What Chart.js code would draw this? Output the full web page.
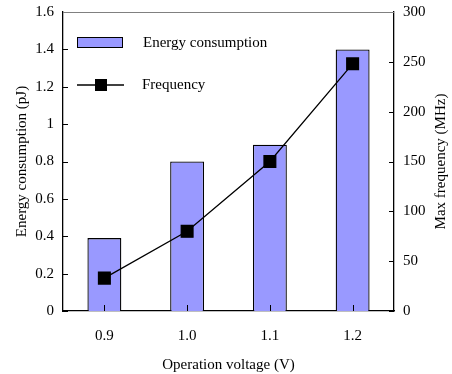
<!DOCTYPE html>
<html>
<head>
    <title>Energy vs Frequency</title>
    <style>
        body { margin: 0; background: #fff; }
        #wrap { width: 452px; height: 374px; }
    </style>
</head>
<body>
    <div id="wrap"><canvas id="chart" width="452" height="374"></canvas></div>

    <script src="https://cdn.jsdelivr.net/npm/chart.js"></script>
    <script>
        const voltages = ['0.9', '1.0', '1.1', '1.2'];
        const energy = [0.39, 0.80, 0.89, 1.40];
        const frequency = [33, 80, 150, 248];
        const energyTicks = [0, 0.2, 0.4, 0.6, 0.8, 1, 1.2, 1.4, 1.6];
        const freqTicks = [0, 50, 100, 150, 200, 250, 300];
        const rightTitle = 'Max frequency (MHz)';

        const FONT = '"Liberation Serif", "Times New Roman", serif';
        const SIZE = 15;
        const BAR_COLOR = '#9999ff';

        // inward tick marks, top frame line, right title and the legend inside the plot
        const decorations = {
            id: 'decorations',
            afterDatasetsDraw(chart) {
                const ctx = chart.ctx;
                const a = chart.chartArea;
                const y = chart.scales.y, y1 = chart.scales.y1, x = chart.scales.x;
                ctx.save();
                ctx.strokeStyle = '#000';
                ctx.lineWidth = 1;
                ctx.beginPath();
                energyTicks.forEach(v => {
                    const py = Math.round(y.getPixelForValue(v)) + 0.5;
                    ctx.moveTo(a.left, py); ctx.lineTo(a.left + 5, py);
                });
                freqTicks.forEach(v => {
                    const py = Math.round(y1.getPixelForValue(v)) + 0.5;
                    ctx.moveTo(a.right, py); ctx.lineTo(a.right - 5, py);
                });
                voltages.forEach((v, i) => {
                    const px = Math.round(x.getPixelForValue(i)) + 0.5;
                    ctx.moveTo(px, a.bottom); ctx.lineTo(px, a.bottom - 6);
                });
                ctx.stroke();

                ctx.strokeStyle = '#808080';
                ctx.beginPath();
                ctx.moveTo(a.left, a.top + 0.5); ctx.lineTo(a.right, a.top + 0.5);
                ctx.stroke();

                ctx.font = SIZE + 'px ' + FONT;
                ctx.fillStyle = '#000';
                ctx.textBaseline = 'middle';

                // right axis title, reading bottom to top like the left one
                ctx.save();
                ctx.translate(441, (a.top + a.bottom) / 2);
                ctx.rotate(-Math.PI / 2);
                ctx.textAlign = 'center';
                ctx.fillText(rightTitle, 0, 0);
                ctx.restore();

                // legend
                const ds = chart.data.datasets;
                const bar = ds.find(d => d.type === 'bar');
                const line = ds.find(d => d.type === 'line');
                ctx.fillStyle = BAR_COLOR;
                ctx.fillRect(a.left + 14, a.top + 25, 45, 10);
                ctx.strokeStyle = '#000';
                ctx.strokeRect(a.left + 14.5, a.top + 25.5, 45, 10);
                ctx.fillStyle = '#000';
                ctx.fillText(bar.label, a.left + 80, a.top + 31);

                ctx.lineWidth = 1.3;
                ctx.beginPath();
                ctx.moveTo(a.left + 14, a.top + 73); ctx.lineTo(a.left + 61, a.top + 73);
                ctx.stroke();
                ctx.fillRect(a.left + 32, a.top + 67, 12, 12);
                ctx.fillText(line.label, a.left + 79, a.top + 73);
                ctx.restore();
            }
        };

        // drop the half-label padding the value axes ask for, the plot starts at y=12
        function noLabelPadding(s) {
            s.paddingTop = 0;
            s.paddingBottom = 0;
        }

        const ctx = document.getElementById('chart').getContext('2d');
        new Chart(ctx, {
            data: {
                labels: voltages,
                datasets: [
                    {
                        type: 'line',
                        label: 'Frequency',
                        data: frequency,
                        yAxisID: 'y1',
                        order: 0,
                        borderColor: '#000',
                        borderWidth: 1.3,
                        pointStyle: 'rect',
                        pointRadius: 8.3,
                        pointBackgroundColor: '#000',
                        pointBorderColor: '#000',
                        tension: 0
                    },
                    {
                        type: 'bar',
                        label: 'Energy consumption',
                        data: energy,
                        yAxisID: 'y',
                        order: 1,
                        backgroundColor: BAR_COLOR,
                        borderColor: '#000',
                        borderWidth: 1.3,
                        barPercentage: 0.41,
                        categoryPercentage: 1
                    }
                ]
            },
            options: {
                responsive: false,
                animation: false,
                layout: { padding: { top: 12, left: 0, right: 0, bottom: 0 } },
                plugins: { legend: { display: false }, tooltip: { enabled: false } },
                scales: {
                    x: {
                        offset: true,
                        grid: { display: false, drawTicks: false },
                        border: { color: '#000', width: 1.3 },
                        ticks: { color: '#000', font: { family: FONT, size: SIZE }, padding: 16 },
                        title: { display: true, text: 'Operation voltage (V)', color: '#000',
                                 font: { family: FONT, size: SIZE }, padding: { top: 0, bottom: 0 } },
                        afterFit(s) { s.height = 63; }
                    },
                    y: {
                        position: 'left',
                        min: 0, max: 1.6,
                        afterBuildTicks(s) { s.ticks = energyTicks.map(v => ({ value: v })); },
                        grid: { display: false, drawTicks: false },
                        border: { color: '#000', width: 1.3 },
                        ticks: { color: '#000', font: { family: FONT, size: SIZE }, padding: 9,
                                 callback: v => String(Number(v.toFixed(1))) },
                        title: { display: true, text: 'Energy consumption (pJ)', color: '#000',
                                 font: { family: FONT, size: SIZE }, padding: { top: 13, bottom: 0 } },
                        afterFit(s) { s.width = 63; noLabelPadding(s); }
                    },
                    y1: {
                        position: 'right',
                        min: 0, max: 300,
                        afterBuildTicks(s) { s.ticks = freqTicks.map(v => ({ value: v })); },
                        grid: { display: false, drawTicks: false },
                        border: { color: '#000', width: 1.3 },
                        ticks: { color: '#000', font: { family: FONT, size: SIZE }, padding: 9 },
                        afterFit(s) { s.width = 58; noLabelPadding(s); }
                    }
                }
            },
            plugins: [decorations]
        });
    </script>
</body>
</html>
